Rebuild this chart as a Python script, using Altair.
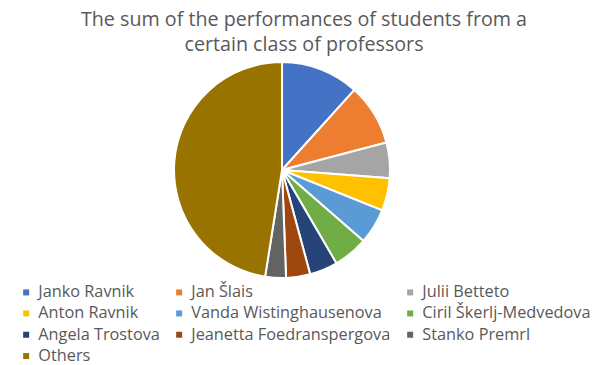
import altair as alt
import pandas as pd

names = ["Janko Ravnik", "Jan Šlais", "Julii Betteto", "Anton Ravnik",
         "Vanda Wistinghausenova", "Ciril Škerlj-Medvedova", "Angela Trostova",
         "Jeanetta Foedranspergova", "Stanko Premrl", "Others"]
values = [11.7, 9.2, 5.3, 4.9, 5.3, 5.2, 4.2, 3.6, 3.1, 47.5]
colors = ["#4472C4", "#ED7D31", "#A5A5A5", "#FFC000", "#5B9BD5",
          "#70AD47", "#264478", "#9E480E", "#636363", "#997300"]
title_lines = ["The sum of the performances of students from a",
               "certain class of professors"]

df = pd.DataFrame({"name": names, "value": values, "order": list(range(len(names)))})
tdf = pd.DataFrame({"t": title_lines, "y": [26, 51]})

pie = alt.Chart(df).mark_arc(outerRadius=108, stroke="white", strokeWidth=2).encode(
    theta=alt.Theta("value:Q", stack=True),
    order=alt.Order("order:Q"),
    x=alt.value(282),
    y=alt.value(170),
    color=alt.Color(
        "name:N",
        sort=names,
        scale=alt.Scale(domain=names, range=colors),
        legend=alt.Legend(
            title=None,
            orient="none",
            direction="horizontal",
            legendX=18,
            legendY=284,
            columns=3,
            symbolType="square",
            symbolSize=36,
            symbolStrokeWidth=0,
            labelFont="Open Sans",
            labelFontSize=16.3,
            labelColor="#595959",
            labelLimit=400,
            columnPadding=11,
            rowPadding=4.3,
            labelOffset=4,
        ),
    ),
)

title = alt.Chart(tdf).mark_text(
    font="Open Sans", fontSize=19.7, color="#595959", align="center", baseline="alphabetic"
).encode(
    text="t:N",
    x=alt.value(304),
    y=alt.Y("y:Q", scale=None),
)

chart = alt.layer(pie, title).properties(
    width=603, height=365, autosize=alt.AutoSizeParams(type="none"), padding=0
).configure_view(stroke=None)

chart.save("out.html", embed_options={"renderer": "svg", "actions": False})
